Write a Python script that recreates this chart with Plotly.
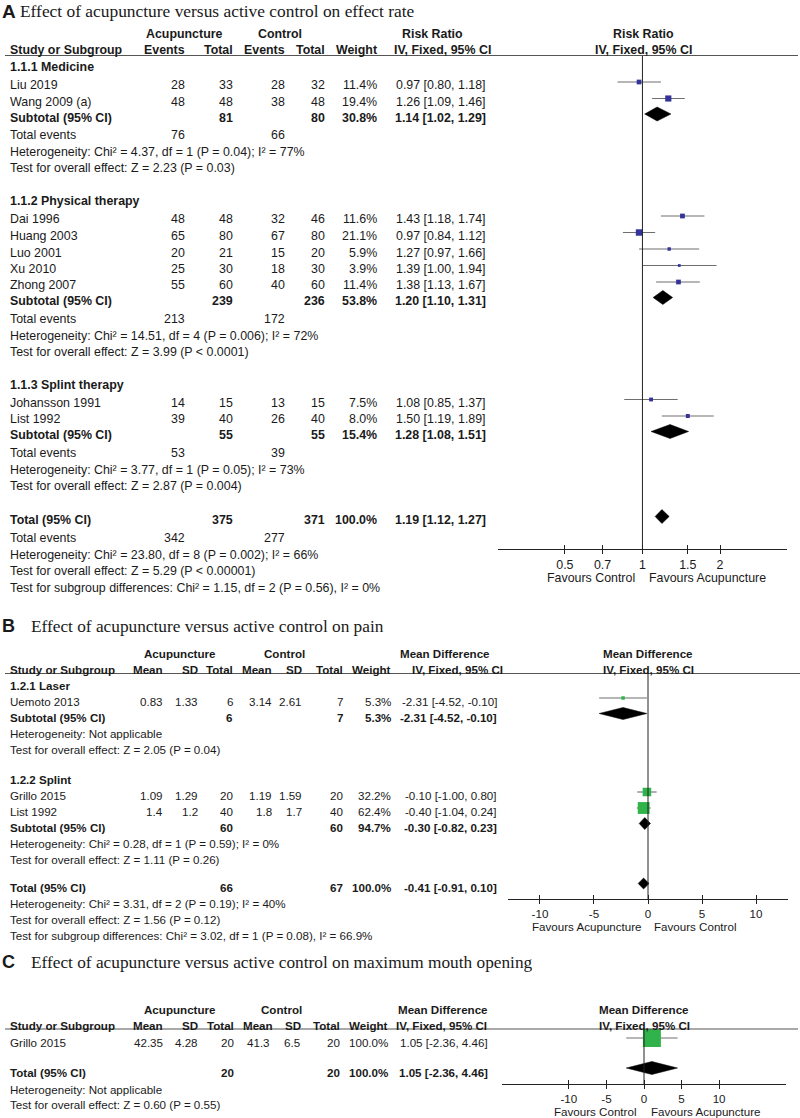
import math
import plotly.graph_objects as go

W, H = 800, 1118
SANS = "Liberation Sans, Arial, sans-serif"
SERIF = "Liberation Serif, Times New Roman, serif"
INK = "#1a1a1a"
BLUE = "#333399"
GREEN = "#2fb34a"
CI_COL = "#6e6e6e"
RULE = "#555555"

# ---------------- Panel A data (Risk Ratio, effect rate) ----------------
a_groups = ["1.1.1 Medicine", "1.1.2 Physical therapy", "1.1.3 Splint therapy"]
a_study = ["Liu 2019", "Wang 2009 (a)", "Dai 1996", "Huang 2003", "Luo 2001",
           "Xu 2010", "Zhong 2007", "Johansson 1991", "List 1992"]
a_group_of = [0, 0, 1, 1, 1, 1, 1, 2, 2]
a_acu_events = [28, 48, 48, 65, 20, 25, 55, 14, 39]
a_acu_total = [33, 48, 48, 80, 21, 30, 60, 15, 40]
a_ctl_events = [28, 38, 32, 67, 15, 18, 40, 13, 26]
a_ctl_total = [32, 48, 46, 80, 20, 30, 60, 15, 40]
a_weight = [11.4, 19.4, 11.6, 21.1, 5.9, 3.9, 11.4, 7.5, 8.0]
a_rr = [0.97, 1.26, 1.43, 0.97, 1.27, 1.39, 1.38, 1.08, 1.50]
a_lo = [0.80, 1.09, 1.18, 0.84, 0.97, 1.00, 1.13, 0.85, 1.19]
a_hi = [1.18, 1.46, 1.74, 1.12, 1.66, 1.94, 1.67, 1.37, 1.89]
a_sub_acu_total = [81, 239, 55]
a_sub_ctl_total = [80, 236, 55]
a_sub_weight = [30.8, 53.8, 15.4]
a_sub_rr = [1.14, 1.20, 1.28]
a_sub_lo = [1.02, 1.10, 1.08]
a_sub_hi = [1.29, 1.31, 1.51]
a_sub_acu_events = [76, 213, 53]
a_sub_ctl_events = [66, 172, 39]
a_sub_het = ["Heterogeneity: Chi² = 4.37, df = 1 (P = 0.04); I² = 77%",
             "Heterogeneity: Chi² = 14.51, df = 4 (P = 0.006); I² = 72%",
             "Heterogeneity: Chi² = 3.77, df = 1 (P = 0.05); I² = 73%"]
a_sub_test = ["Test for overall effect: Z = 2.23 (P = 0.03)",
              "Test for overall effect: Z = 3.99 (P < 0.0001)",
              "Test for overall effect: Z = 2.87 (P = 0.004)"]
a_tot_acu_total, a_tot_ctl_total = 375, 371
a_tot_weight = 100.0
a_tot_rr, a_tot_lo, a_tot_hi = 1.19, 1.12, 1.27
a_tot_acu_events, a_tot_ctl_events = 342, 277
a_tot_lines = ["Heterogeneity: Chi² = 23.80, df = 8 (P = 0.002); I² = 66%",
               "Test for overall effect: Z = 5.29 (P < 0.00001)",
               "Test for subgroup differences: Chi² = 1.15, df = 2 (P = 0.56), I² = 0%"]
a_ticks = [0.5, 0.7, 1, 1.5, 2]
a_tick_text = ["0.5", "0.7", "1", "1.5", "2"]
a_favours = ["Favours Control", "Favours Acupuncture"]

# ---------------- Panel B data (Mean Difference, pain) ----------------
b_groups = ["1.2.1 Laser", "1.2.2 Splint"]
b_study = ["Uemoto 2013", "Grillo 2015", "List 1992"]
b_group_of = [0, 1, 1]
b_acu_mean = [0.83, 1.09, 1.4]
b_acu_sd = [1.33, 1.29, 1.2]
b_acu_n = [6, 20, 40]
b_ctl_mean = [3.14, 1.19, 1.8]
b_ctl_sd = [2.61, 1.59, 1.7]
b_ctl_n = [7, 20, 40]
b_weight = [5.3, 32.2, 62.4]
b_md = [-2.31, -0.10, -0.40]
b_lo = [-4.52, -1.00, -1.04]
b_hi = [-0.10, 0.80, 0.24]
b_sub_acu_n = [6, 60]
b_sub_ctl_n = [7, 60]
b_sub_weight = [5.3, 94.7]
b_sub_md = [-2.31, -0.30]
b_sub_lo = [-4.52, -0.82]
b_sub_hi = [-0.10, 0.23]
b_sub_het = ["Heterogeneity: Not applicable",
             "Heterogeneity: Chi² = 0.28, df = 1 (P = 0.59); I² = 0%"]
b_sub_test = ["Test for overall effect: Z = 2.05 (P = 0.04)",
              "Test for overall effect: Z = 1.11 (P = 0.26)"]
b_tot_acu_n, b_tot_ctl_n = 66, 67
b_tot_weight = 100.0
b_tot_md, b_tot_lo, b_tot_hi = -0.41, -0.91, 0.10
b_tot_lines = ["Heterogeneity: Chi² = 3.31, df = 2 (P = 0.19); I² = 40%",
               "Test for overall effect: Z = 1.56 (P = 0.12)",
               "Test for subgroup differences: Chi² = 3.02, df = 1 (P = 0.08), I² = 66.9%"]
b_ticks = [-10, -5, 0, 5, 10]
b_favours = ["Favours Acupuncture", "Favours Control"]

# ---------------- Panel C data (Mean Difference, mouth opening) ----------------
c_study = ["Grillo 2015"]
c_acu_mean = [42.35]
c_acu_sd = [4.28]
c_acu_n = [20]
c_ctl_mean = [41.3]
c_ctl_sd = [6.5]
c_ctl_n = [20]
c_weight = [100.0]
c_md = [1.05]
c_lo = [-2.36]
c_hi = [4.46]
c_tot_acu_n, c_tot_ctl_n = 20, 20
c_tot_weight = 100.0
c_tot_md, c_tot_lo, c_tot_hi = 1.05, -2.36, 4.46
c_tot_lines = ["Heterogeneity: Not applicable",
               "Test for overall effect: Z = 0.60 (P = 0.55)"]
c_ticks = [-10, -5, 0, 5, 10]
c_favours = ["Favours Control", "Favours Acupuncture"]

titles = ["Effect of acupuncture versus active control on effect rate",
          "Effect of acupuncture versus active control on pain",
          "Effect of acupuncture versus active control on maximum mouth opening"]

# ---------------- helpers ----------------
ann = []
shapes = []
traces = []


def T(x, y, s, anchor="left", size=12.4, bold=False, font=SANS, color=INK):
    if bold:
        s = "<b>" + s + "</b>"
    ann.append(dict(x=x / W, y=1 - y / H, xref="paper", yref="paper", text=s,
                    showarrow=False, xanchor=anchor, yanchor="middle",
                    borderpad=0, borderwidth=0,
                    font=dict(family=font, size=size, color=color)))


def rule(x0, x1, y):
    shapes.append(dict(type="line", xref="paper", yref="paper",
                       x0=x0 / W, x1=x1 / W, y0=1 - y / H, y1=1 - y / H,
                       line=dict(color=RULE, width=1.2)))


def ci_fmt(e, l, h):
    return f"{e:.2f} [{l:.2f}, {h:.2f}]"


def num(v):
    return f"{v:g}"


def study_marks(xs, ys, los, his, sizes, color, xa, ya):
    lx, ly = [], []
    for l, h, y in zip(los, his, ys):
        lx += [l, h, None]
        ly += [y, y, None]
    traces.append(go.Scatter(x=lx, y=ly, mode="lines", xaxis=xa, yaxis=ya,
                             line=dict(color=CI_COL, width=1.1), hoverinfo="skip"))
    traces.append(go.Scatter(x=xs, y=ys, mode="markers", xaxis=xa, yaxis=ya, opacity=1,
                             marker=dict(symbol="square", size=sizes, color=color, opacity=1,
                                         line=dict(width=0)), hoverinfo="skip"))


def diamond(e, l, h, y, hh, xa, ya):
    traces.append(go.Scatter(x=[l, e, h, e, l], y=[y, y - hh, y, y + hh, y],
                             mode="lines", fill="toself", fillcolor="black",
                             line=dict(color="black", width=0.5),
                             xaxis=xa, yaxis=ya, hoverinfo="skip"))


# ---------------- Panel A ----------------
FA = 12.4
OFF = 3.5
T(2, 11, "A", size=19, bold=True)
T(20, 11, titles[0], size=17.4, font=SERIF)
T(184, 33.5, "Acupuncture", "center", FA, True)
T(280, 33.5, "Control", "center", FA, True)
T(432, 33.5, "Risk Ratio", "center", FA, True)
T(643, 33.5, "Risk Ratio", "center", FA, True)
hdrA = [(10, "Study or Subgroup", "left"), (185, "Events", "right"), (233, "Total", "right"),
        (285, "Events", "right"), (325, "Total", "right"), (377, "Weight", "right"),
        (442, "IV, Fixed, 95% CI", "center"), (643, "IV, Fixed, 95% CI", "center")]
for x, s, an in hdrA:
    T(x, 50, s, an, FA, True)
rule(5, 798, 55.5)

colA = [185, 233, 285, 325, 377, 486]
y = 67.0
mk_y, mk_i = [], []
for g in range(len(a_groups)):
    T(10, y, a_groups[g], "left", FA, True)
    y += 18.5
    for i in [k for k in range(len(a_study)) if a_group_of[k] == g]:
        T(10, y, a_study[i], "left", FA)
        vals = [str(a_acu_events[i]), str(a_acu_total[i]), str(a_ctl_events[i]),
                str(a_ctl_total[i]), f"{a_weight[i]:.1f}%", ci_fmt(a_rr[i], a_lo[i], a_hi[i])]
        for x, s in zip(colA, vals):
            T(x, y, s, "right", FA)
        mk_y.append(y - OFF)
        mk_i.append(i)
        y += 16.5
    y -= 1.0
    T(10, y, "Subtotal (95% CI)", "left", FA, True)
    for x, s in zip([233, 325, 377, 486], [str(a_sub_acu_total[g]), str(a_sub_ctl_total[g]),
                                          f"{a_sub_weight[g]:.1f}%",
                                          ci_fmt(a_sub_rr[g], a_sub_lo[g], a_sub_hi[g])]):
        T(x, y, s, "right", FA, True)
    diamond(a_sub_rr[g], a_sub_lo[g], a_sub_hi[g], y - OFF, 7, "x", "y")
    y += 17.5
    T(10, y, "Total events", "left", FA)
    T(185, y, str(a_sub_acu_events[g]), "right", FA)
    T(285, y, str(a_sub_ctl_events[g]), "right", FA)
    y += 17
    T(10, y, a_sub_het[g], "left", FA)
    y += 16.5
    T(10, y, a_sub_test[g], "left", FA)
    y += 32.5
y += 1.5
T(10, y, "Total (95% CI)", "left", FA, True)
for x, s in zip([233, 325, 377, 486], [str(a_tot_acu_total), str(a_tot_ctl_total),
                                      f"{a_tot_weight:.1f}%", ci_fmt(a_tot_rr, a_tot_lo, a_tot_hi)]):
    T(x, y, s, "right", FA, True)
diamond(a_tot_rr, a_tot_lo, a_tot_hi, y - OFF, 7, "x", "y")
y += 18
T(10, y, "Total events", "left", FA)
T(185, y, str(a_tot_acu_events), "right", FA)
T(285, y, str(a_tot_ctl_events), "right", FA)
for s in a_tot_lines:
    y += 16.5
    T(10, y, s, "left", FA)

study_marks([a_rr[i] for i in mk_i], mk_y, [a_lo[i] for i in mk_i], [a_hi[i] for i in mk_i],
            [1.4 * math.sqrt(a_weight[i]) for i in mk_i], BLUE, "x", "y")
traces.append(go.Scatter(x=[1, 1], y=[56, 549], mode="lines", xaxis="x", yaxis="y",
                         line=dict(color="#222", width=1), hoverinfo="skip"))
T(591, 578, a_favours[0], "center", FA)
T(707, 578, a_favours[1], "center", FA)

# ---------------- Panel B ----------------
FB = 11.6
T(2, 626, "B", size=18, bold=True)
T(31, 626, titles[1], size=17.3, font=SERIF)
T(180, 653, "Acupuncture", "center", FB, True)
T(284, 653, "Control", "center", FB, True)
T(445, 653, "Mean Difference", "center", FB, True)
T(648, 653, "Mean Difference", "center", FB, True)
hdrB = [(10, "Study or Subgroup", "left"), (163, "Mean", "right"), (198, "SD", "right"),
        (233, "Total", "right"), (272, "Mean", "right"), (302, "SD", "right"),
        (343, "Total", "right"), (391, "Weight", "right"),
        (457, "IV, Fixed, 95% CI", "center"), (648, "IV, Fixed, 95% CI", "center")]
for x, s, an in hdrB:
    T(x, 669, s, an, FB, True)
rule(5, 800, 673.5)

colB = [163, 198, 233, 272, 302, 343, 391, 497]
y = 685.0
mk_y, mk_i = [], []
for g in range(len(b_groups)):
    T(10, y, b_groups[g], "left", FB, True)
    y += 16.5
    for i in [k for k in range(len(b_study)) if b_group_of[k] == g]:
        T(10, y, b_study[i], "left", FB)
        vals = [num(b_acu_mean[i]), num(b_acu_sd[i]), str(b_acu_n[i]), num(b_ctl_mean[i]),
                num(b_ctl_sd[i]), str(b_ctl_n[i]), f"{b_weight[i]:.1f}%",
                ci_fmt(b_md[i], b_lo[i], b_hi[i])]
        for x, s in zip(colB, vals):
            T(x, y, s, "right", FB)
        mk_y.append(y - OFF)
        mk_i.append(i)
        y += 16
    y -= 0.5
    T(10, y, "Subtotal (95% CI)", "left", FB, True)
    for x, s in zip([233, 343, 391, 497], [str(b_sub_acu_n[g]), str(b_sub_ctl_n[g]),
                                          f"{b_sub_weight[g]:.1f}%",
                                          ci_fmt(b_sub_md[g], b_sub_lo[g], b_sub_hi[g])]):
        T(x, y, s, "right", FB, True)
    diamond(b_sub_md[g], b_sub_lo[g], b_sub_hi[g], y - OFF, 6, "x2", "y2")
    y += 16.5
    T(10, y, b_sub_het[g], "left", FB)
    y += 15.5
    T(10, y, b_sub_test[g], "left", FB)
    y += 30
y -= 2
T(10, y, "Total (95% CI)", "left", FB, True)
for x, s in zip([233, 343, 391, 497], [str(b_tot_acu_n), str(b_tot_ctl_n),
                                      f"{b_tot_weight:.1f}%", ci_fmt(b_tot_md, b_tot_lo, b_tot_hi)]):
    T(x, y, s, "right", FB, True)
diamond(b_tot_md, b_tot_lo, b_tot_hi, y - OFF, 5.5, "x2", "y2")
for s in b_tot_lines:
    y += 16
    T(10, y, s, "left", FB)

study_marks([b_md[i] for i in mk_i], mk_y, [b_lo[i] for i in mk_i], [b_hi[i] for i in mk_i],
            [1.5 * math.sqrt(b_weight[i]) for i in mk_i], GREEN, "x2", "y2")
traces.append(go.Scatter(x=[0, 0], y=[673, 899], mode="lines", xaxis="x2", yaxis="y2",
                         line=dict(color="#222", width=1), hoverinfo="skip"))
T(587, 926, b_favours[0], "center", FB)
T(695, 926, b_favours[1], "center", FB)

# ---------------- Panel C ----------------
T(2, 962, "C", size=18, bold=True)
T(31, 962, titles[2], size=17.3, font=SERIF)
T(180, 1009, "Acupuncture", "center", FB, True)
T(281, 1009, "Control", "center", FB, True)
T(443, 1009, "Mean Difference", "center", FB, True)
T(644, 1009, "Mean Difference", "center", FB, True)
hdrC = [(10, "Study or Subgroup", "left"), (163, "Mean", "right"), (198, "SD", "right"),
        (234, "Total", "right"), (273, "Mean", "right"), (301, "SD", "right"),
        (340, "Total", "right"), (388, "Weight", "right"),
        (441, "IV, Fixed, 95% CI", "center"), (644, "IV, Fixed, 95% CI", "center")]
for x, s, an in hdrC:
    T(x, 1025, s, an, FB, True)
rule(5, 798, 1029)

colC = [163, 198, 234, 270, 300, 340, 388, 488]
y = 1042.0
mk_y = []
for i in range(len(c_study)):
    T(10, y, c_study[i], "left", FB)
    vals = [num(c_acu_mean[i]), num(c_acu_sd[i]), str(c_acu_n[i]), num(c_ctl_mean[i]),
            num(c_ctl_sd[i]), str(c_ctl_n[i]), f"{c_weight[i]:.1f}%",
            ci_fmt(c_md[i], c_lo[i], c_hi[i])]
    for x, s in zip(colC, vals):
        T(x, y, s, "right", FB)
    mk_y.append(y - 4)
    y += 30
T(10, y, "Total (95% CI)", "left", FB, True)
for x, s in zip([234, 340, 388, 488], [str(c_tot_acu_n), str(c_tot_ctl_n),
                                      f"{c_tot_weight:.1f}%", ci_fmt(c_tot_md, c_tot_lo, c_tot_hi)]):
    T(x, y, s, "right", FB, True)
diamond(c_tot_md, c_tot_lo, c_tot_hi, y - 4, 6.5, "x3", "y3")
y += 17
T(10, y, c_tot_lines[0], "left", FB)
y += 15
T(10, y, c_tot_lines[1], "left", FB)

study_marks(c_md, mk_y, c_lo, c_hi, [1.8 * math.sqrt(w) for w in c_weight], GREEN, "x3", "y3")
traces.append(go.Scatter(x=[0, 0], y=[1029, 1084], mode="lines", xaxis="x3", yaxis="y3",
                         line=dict(color="#222", width=1), hoverinfo="skip"))
T(595, 1111, c_favours[0], "center", FB)
T(706, 1111, c_favours[1], "center", FB)

# invisible anchors for the overlay (cross-tick) axes
traces.append(go.Scatter(x=[1], y=[300], xaxis="x4", yaxis="y", mode="markers",
                         marker=dict(opacity=0), hoverinfo="skip"))
traces.append(go.Scatter(x=[0], y=[800], xaxis="x5", yaxis="y2", mode="markers",
                         marker=dict(opacity=0), hoverinfo="skip"))
traces.append(go.Scatter(x=[0], y=[1060], xaxis="x6", yaxis="y3", mode="markers",
                         marker=dict(opacity=0), hoverinfo="skip"))

fig = go.Figure(traces)

A_RANGE = [math.log10(0.275), math.log10(3.64)]
B_RANGE = [-12.96, 12.96]
C_RANGE = [-18.9, 18.9]


def xax(domain, rng, ticks, ttext, size, typ="linear", anchor="y"):
    return dict(domain=domain, range=rng, type=typ, anchor=anchor, showline=True,
                linecolor="#222", linewidth=1, ticks="outside", ticklen=4, tickwidth=1,
                tickcolor="#222", tickvals=ticks, ticktext=ttext, showgrid=False,
                zeroline=False, tickfont=dict(family=SANS, size=size, color=INK),
                fixedrange=True)


def xover(over, rng, ticks, typ="linear", anchor="y"):
    return dict(overlaying=over, range=rng, type=typ, anchor=anchor, showline=False,
                ticks="inside", ticklen=4, tickwidth=1, tickcolor="#222", tickvals=ticks,
                showticklabels=False, showgrid=False, zeroline=False, fixedrange=True)


def yax(top, bottom):
    return dict(domain=[1 - bottom / H, 1 - top / H], range=[bottom, top], visible=False,
                showgrid=False, zeroline=False, fixedrange=True)


fig.update_layout(
    width=W, height=H, margin=dict(l=0, r=0, t=0, b=0),
    paper_bgcolor="white", plot_bgcolor="rgba(0,0,0,0)", showlegend=False,
    xaxis=xax([498 / W, 787 / W], A_RANGE, a_ticks, a_tick_text, FA, "log", "y"),
    yaxis=yax(56, 549),
    xaxis2=xax([508 / W, 788 / W], B_RANGE, b_ticks, [str(t) for t in b_ticks], FB, "linear", "y2"),
    yaxis2=yax(673, 899),
    xaxis3=xax([502 / W, 786 / W], C_RANGE, c_ticks, [str(t) for t in c_ticks], FB, "linear", "y3"),
    yaxis3=yax(1029, 1084),
    xaxis4=xover("x", A_RANGE, a_ticks, "log", "y"),
    xaxis5=xover("x2", B_RANGE, b_ticks, "linear", "y2"),
    xaxis6=xover("x3", C_RANGE, c_ticks, "linear", "y3"),
    annotations=ann, shapes=shapes,
)

fig.write_html("out.html", config={"displayModeBar": False, "staticPlot": True},
               post_script="document.body.style.margin='0px';document.body.style.overflow='hidden';")
